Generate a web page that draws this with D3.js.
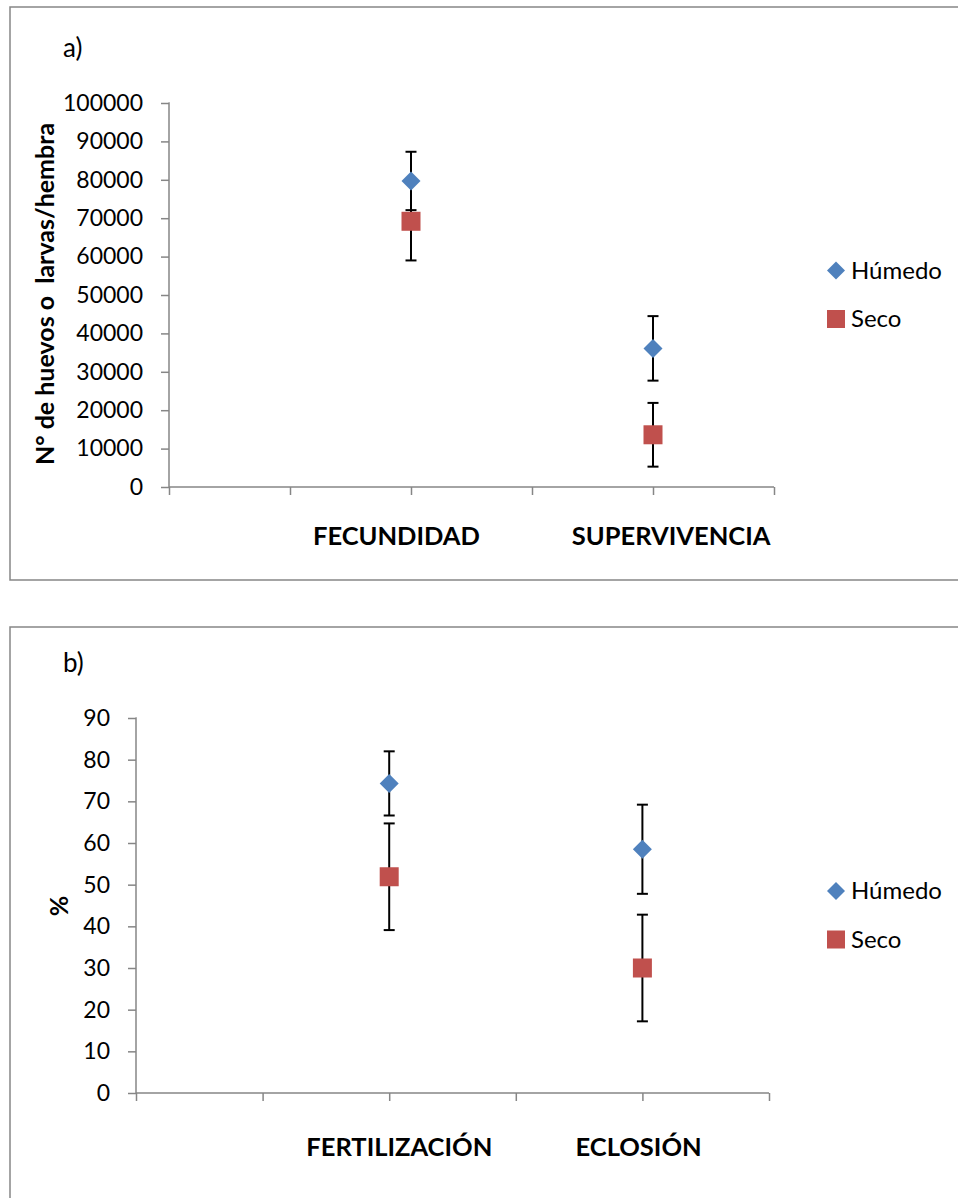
<!DOCTYPE html>
<html>
<head>
<meta charset="utf-8">
<script src="https://cdn.jsdelivr.net/npm/d3@7"></script>
<style>
  html, body { margin: 0; padding: 0; background: #fff; }
  svg { display: block; }
  text { font-family: Lato, "Open Sans", sans-serif; fill: #000; }
</style>
</head>
<body>
<svg id="chart" width="958" height="1198"></svg>
<script>
// ---- Data ----
const seriesNames = ["Húmedo", "Seco"];
const seriesColors = ["#4F81BD", "#C0504D"];

// Panel a
const categoriesA = ["FECUNDIDAD", "SUPERVIVENCIA"];
const categoryPosA = [2, 4];
const labelPosA = [1.88, 4.15];
const humedoA = [79700, 36100];
const humedoErrA = [7600, 8400];
const secoA = [69200, 13600];
const secoErrA = [10200, 8300];
const yTicksA = [0, 10000, 20000, 30000, 40000, 50000, 60000, 70000, 80000, 90000, 100000];

// Panel b
const categoriesB = ["FERTILIZACIÓN", "ECLOSIÓN"];
const categoryPosB = [2, 4];
const labelPosB = [2.08, 3.97];
const humedoB = [74.3, 58.5];
const humedoErrB = [7.7, 10.7];
const secoB = [51.9, 30.0];
const secoErrB = [12.8, 12.8];
const yTicksB = [0, 10, 20, 30, 40, 50, 60, 70, 80, 90];

const xTicks = [0, 1, 2, 3, 4, 5];

const svg = d3.select("#chart");

function panel(cfg) {
  const g = svg.append("g");
  // frame
  g.append("rect")
    .attr("x", cfg.frame[0]).attr("y", cfg.frame[1])
    .attr("width", cfg.frame[2]).attr("height", cfg.frame[3])
    .attr("fill", "none").attr("stroke", "#868686").attr("stroke-width", 1.5);

  const x = d3.scaleLinear().domain([0, 5]).range([cfg.left, cfg.right]);
  const y = d3.scaleLinear().domain([0, cfg.yMax]).range([cfg.bottom, cfg.top]);

  // y axis
  const yAxis = g.append("g").attr("transform", `translate(${cfg.left},0)`)
    .call(d3.axisLeft(y).tickValues(cfg.yTicks).tickSize(8).tickPadding(18).tickFormat(d3.format("d")));
  yAxis.select(".domain").attr("stroke", "#868686").attr("stroke-width", 1.5)
    .attr("d", `M-0.5,${cfg.top}H0V${cfg.bottom}`);
  yAxis.selectAll(".tick line").attr("stroke", "#868686").attr("stroke-width", 1.5);
  yAxis.selectAll(".tick text").style("font-size", "23px").style("font-family", "Lato, sans-serif").attr("fill", "#000");

  // x axis
  const xAxis = g.append("g").attr("transform", `translate(0,${cfg.bottom})`)
    .call(d3.axisBottom(x).tickValues(xTicks).tickSize(8).tickFormat(""));
  xAxis.select(".domain").attr("stroke", "#868686").attr("stroke-width", 1.5)
    .attr("d", `M${cfg.left},0H${cfg.right}`);
  xAxis.selectAll(".tick line").attr("stroke", "#868686").attr("stroke-width", 1.5);

  // category labels
  g.selectAll(".cat").data(cfg.categories).enter().append("text")
    .attr("class", "cat")
    .attr("x", (d, i) => x(cfg.labelPos[i]))
    .attr("y", cfg.catY)
    .attr("text-anchor", "middle")
    .style("font-size", "25.5px").style("font-weight", "bold")
    .text(d => d);

  // y title
  g.append("text")
    .attr("transform", `translate(${cfg.yTitleX},${cfg.yTitleY}) rotate(-90)`)
    .attr("text-anchor", "middle")
    .style("font-size", "25px").style("font-weight", "bold")
    .style("white-space", "pre")
    .text(cfg.yTitle);

  // panel label
  g.append("text").attr("x", 63).attr("y", cfg.labelY)
    .style("font-size", "26px").text(cfg.label);

  const series = [
    { vals: cfg.humedo, errs: cfg.humedoErr, color: seriesColors[0], shape: "diamond" },
    { vals: cfg.seco, errs: cfg.secoErr, color: seriesColors[1], shape: "square" }
  ];

  // error bars
  series.forEach(s => {
    const eb = g.append("g");
    s.vals.forEach((v, i) => {
      const cx = x(cfg.catPos[i]);
      eb.append("line").attr("x1", cx).attr("x2", cx)
        .attr("y1", y(v + s.errs[i])).attr("y2", y(v - s.errs[i]))
        .attr("stroke", "#000").attr("stroke-width", 2);
      [v + s.errs[i], v - s.errs[i]].forEach(e => {
        eb.append("line").attr("x1", cx - 5.5).attr("x2", cx + 5.5)
          .attr("y1", y(e)).attr("y2", y(e))
          .attr("stroke", "#000").attr("stroke-width", 2);
      });
    });
  });

  // markers
  series.forEach(s => {
    s.vals.forEach((v, i) => {
      const cx = x(cfg.catPos[i]), cy = y(v);
      if (s.shape === "diamond") {
        g.append("path").attr("d", `M${cx},${cy - 9.5}L${cx + 9.5},${cy}L${cx},${cy + 9.5}L${cx - 9.5},${cy}Z`)
          .attr("fill", s.color);
      } else {
        g.append("rect").attr("x", cx - 9.5).attr("y", cy - 9.5).attr("width", 19).attr("height", 19)
          .attr("fill", s.color);
      }
    });
  });

  // legend
  seriesNames.forEach((name, i) => {
    const ly = cfg.legendY + i * 48.5;
    if (i === 0) {
      g.append("path").attr("d", `M836,${ly - 9}L845,${ly}L836,${ly + 9}L827,${ly}Z`).attr("fill", seriesColors[0]);
    } else {
      g.append("rect").attr("x", 827).attr("y", ly - 9).attr("width", 18).attr("height", 18).attr("fill", seriesColors[1]);
    }
    g.append("text").attr("x", 851).attr("y", ly).attr("dy", "0.35em")
      .style("font-size", "24px").text(name);
  });
}

panel({
  frame: [10, 7, 960, 573],
  left: 169, right: 774, top: 103, bottom: 487,
  yMax: 100000, yTicks: yTicksA,
  categories: categoriesA, catPos: categoryPosA, labelPos: labelPosA, catY: 545,
  humedo: humedoA, humedoErr: humedoErrA, seco: secoA, secoErr: secoErrA,
  yTitle: "N° de huevos o  larvas/hembra", yTitleX: 54, yTitleY: 294,
  label: "a)", labelY: 57, legendY: 270.5
});

panel({
  frame: [10, 627, 960, 600],
  left: 136, right: 769, top: 718, bottom: 1093,
  yMax: 90, yTicks: yTicksB,
  categories: categoriesB, catPos: categoryPosB, labelPos: labelPosB, catY: 1156,
  humedo: humedoB, humedoErr: humedoErrB, seco: secoB, secoErr: secoErrB,
  yTitle: "%", yTitleX: 68, yTitleY: 906,
  label: "b)", labelY: 672, legendY: 891
});
</script>
</body>
</html>
